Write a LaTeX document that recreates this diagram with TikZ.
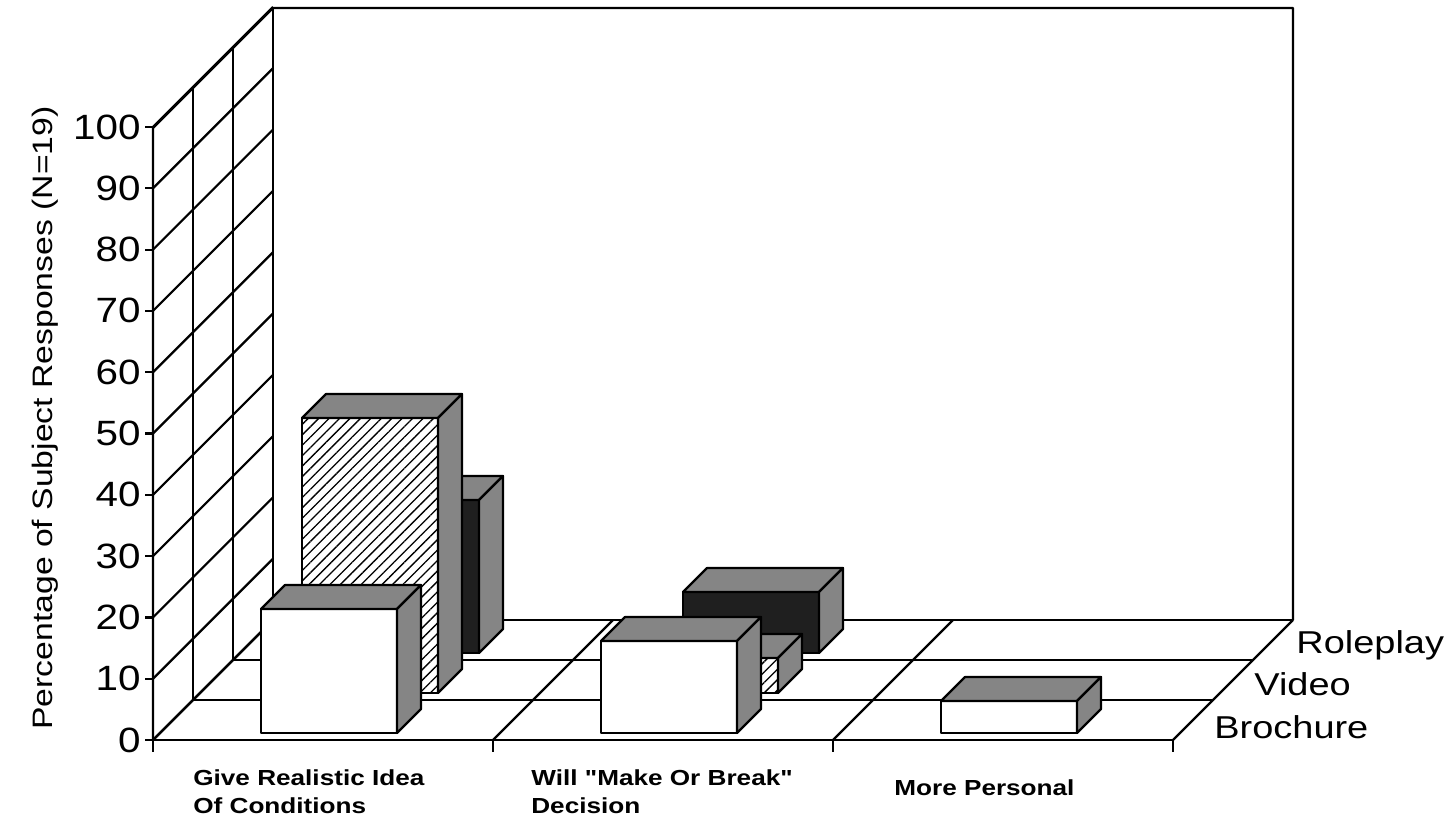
\documentclass[tikz,border=0pt]{standalone}
\usepackage{fontspec}
\setmainfont{Liberation Sans}
\newfontfamily\tickfont[FakeStretch=1.15]{Liberation Sans}
\newfontfamily\legendfont[FakeStretch=1.2]{Liberation Sans}
\newfontfamily\axisfont[FakeStretch=1.2]{Liberation Sans}
\newfontfamily\catfont[FakeStretch=1.2]{Liberation Sans}
\usetikzlibrary{patterns.meta}

\tikzset{
  chartline/.style={line width=1.25pt, line join=round},
  frontplain/.style={chartline, fill=white},
  fronthatch/.style={chartline, preaction={fill=white},
    pattern={Lines[angle=45,distance=4.2pt,line width=0.75pt]}},
  frontdark/.style={chartline, fill=black!88},
  speckle/.style={chartline, fill=black!48},
  ticklabel/.style={font=\tickfont\fontsize{20}{24}\selectfont, anchor=east, inner sep=0pt},
  rowlabel/.style={font=\legendfont\fontsize{18}{21}\selectfont, anchor=base west, inner sep=0pt},
  catlabel/.style={font=\catfont\bfseries\fontsize{12.4}{16}\selectfont, align=left, inner sep=0pt}
}

% one bar: left x, bottom y, height, front style
\newcommand{\barbox}[4]{
  \draw[#4] (#1,#2) rectangle ++(136,-#3);
  \draw[speckle] (#1,#2-#3) -- ++(24,-24) -- ++(136,0) -- ++(-24,24) -- cycle;
  \draw[speckle] (#1+136,#2) -- ++(24,-24) -- ++(0,-#3) -- ++(-24,24) -- cycle;
}

\begin{document}
\begin{tikzpicture}[x=0.02cm, y=-0.02cm]
  \useasboundingbox (0,0) rectangle (1452,831);

  % walls
  \draw[chartline] (153,740) -- (153,128) -- (273,8) -- (1293,8) -- (1293,620);
  \draw[chartline] (273,8) -- (273,620);
  \draw[chartline] (193,700) -- (193,88);
  \draw[chartline] (233,660) -- (233,48);
  \foreach \k [evaluate=\k as \v using int(10*\k)] in {0,...,10} {
    \draw[chartline] (153,{740-61.3*\k}) -- (273,{620-61.3*\k});
    \draw[chartline] (145,{740-61.3*\k}) -- (153,{740-61.3*\k});
    \node[ticklabel] (tick\k) at (141,{740-61.3*\k}) {\v};
  }

  % floor
  \foreach \r in {0,...,3}
    \draw[chartline] ({153+40*\r},{740-40*\r}) -- ({1173+40*\r},{740-40*\r});
  \foreach \c in {0,...,3} {
    \draw[chartline] ({153+340*\c},740) -- ({273+340*\c},620);
    \draw[chartline] ({153+340*\c},740) -- ({153+340*\c},752);
  }

  % roleplay
  \barbox{343}{653}{153}{frontdark}
  \barbox{683}{653}{61}{frontdark}
  % video
  \barbox{302}{693}{275}{fronthatch}
  \barbox{642}{693}{35}{fronthatch}
  % brochure
  \barbox{261}{733}{124}{frontplain}
  \barbox{601}{733}{92}{frontplain}
  \barbox{941}{733}{32}{frontplain}

  \node[rotate=90, font=\axisfont\fontsize{16}{19}\selectfont] (ylabel) at (45,418)
    {Percentage of Subject Responses (N=19)};

  \node[rowlabel] (roleplay) at (1296,653) {Roleplay};
  \node[rowlabel] (video) at (1254,695) {Video};
  \node[rowlabel] (brochure) at (1214,738) {Brochure};

  \node[catlabel, anchor=north west] (cat1) at (193,769) {Give Realistic Idea\\Of Conditions};
  \node[catlabel, anchor=north west] (cat2) at (531,769) {Will "Make Or Break"\\Decision};
  \node[catlabel, anchor=west] (cat3) at (894,788) {More Personal};
\end{tikzpicture}
\end{document}
